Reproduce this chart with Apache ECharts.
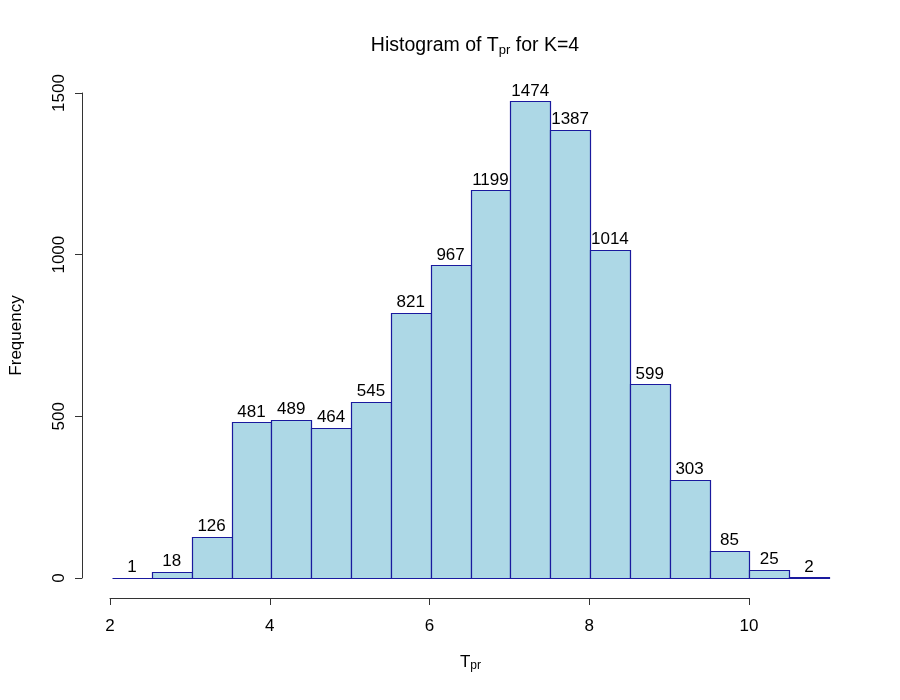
<!DOCTYPE html>
<html>
<head>
<meta charset="utf-8">
<script src="https://cdn.jsdelivr.net/npm/echarts@6/dist/echarts.min.js"></script>
<style>html,body{margin:0;padding:0;background:#fff}#c{width:900px;height:700px}</style>
</head>
<body>
<div id="c"></div>
<script>
const binStarts = [2, 2.5, 3, 3.5, 4, 4.5, 5, 5.5, 6, 6.5, 7, 7.5, 8, 8.5, 9, 9.5, 10, 10.5];
const binWidth = 0.5;
const counts = [1, 18, 126, 481, 489, 464, 545, 821, 967, 1199, 1474, 1387, 1014, 599, 303, 85, 25, 2];
const xTicks = [2, 4, 6, 8, 10];
const yTicks = [0, 500, 1000, 1500];

const FONT = 'Liberation Sans, Arial, Helvetica, sans-serif';
const chart = echarts.init(document.getElementById('c'), null, {renderer: 'canvas'});
const data = binStarts.map((s, i) => [s, s + binWidth, counts[i]]);

chart.setOption({
  backgroundColor: '#ffffff',
  animation: false,
  title: {
    text: 'Histogram of T{sub|pr} for K=4',
    left: 470, top: 30, textAlign: 'center',
    textStyle: {
      fontFamily: FONT, fontSize: 19.5, fontWeight: 'normal', color: '#000',
      rich: { sub: { fontFamily: FONT, fontSize: 13, verticalAlign: 'bottom', padding: [9, 0, 0, 0], color: '#000' } }
    }
  },
  grid: [
    {left: 110, width: 719, top: 93, height: 485},
    {left: 110, width: 639, top: 93, height: 485}
  ],
  xAxis: [
    {
      type: 'value', gridIndex: 0, min: 2, max: 11, offset: 20,
      axisLine: {show: false, onZero: false}, axisTick: {show: false}, axisLabel: {show: false}, splitLine: {show: false},
      name: 'T{sub|pr}', nameLocation: 'middle', nameGap: 54,
      nameTextStyle: {
        fontFamily: FONT, fontSize: 17, color: '#000',
        rich: { sub: { fontFamily: FONT, fontSize: 12, verticalAlign: 'bottom', padding: [8, 0, 0, 0], color: '#000' } }
      }
    },
    {
      type: 'value', gridIndex: 1, min: xTicks[0], max: xTicks[xTicks.length - 1], interval: 2, offset: 20,
      axisLine: {show: true, onZero: false, lineStyle: {color: '#333', width: 1}},
      axisTick: {show: true, inside: false, length: 7, lineStyle: {color: '#333'}},
      axisLabel: {fontFamily: FONT, fontSize: 17, color: '#000', margin: 20},
      splitLine: {show: false}
    }
  ],
  yAxis: [
    {
      type: 'value', gridIndex: 0, min: yTicks[0], max: yTicks[yTicks.length - 1], interval: 500, offset: 30,
      axisLine: {show: true, onZero: false, lineStyle: {color: '#333', width: 1}},
      axisTick: {show: true, inside: false, length: 7, lineStyle: {color: '#333'}},
      axisLabel: {fontFamily: FONT, fontSize: 17, color: '#000', rotate: 90, margin: 14, formatter: v => String(v)},
      splitLine: {show: false},
      name: 'Frequency', nameLocation: 'middle', nameGap: 57,
      nameTextStyle: {fontFamily: FONT, fontSize: 17, color: '#000'}
    },
    {type: 'value', gridIndex: 1, min: 0, max: 1500, show: false}
  ],
  series: [{
    type: 'custom',
    xAxisIndex: 0, yAxisIndex: 0,
    data: data,
    clip: false,
    renderItem: function (params, api) {
      const p0 = api.coord([api.value(0), 0]);
      const p1 = api.coord([api.value(1), api.value(2)]);
      const x = Math.round(p0[0]) + 0.5, x2 = Math.round(p1[0]) + 0.5;
      const yb = Math.round(p0[1]) + 0.5, yt = Math.round(p1[1]) + 0.5;
      return {
        type: 'group',
        children: [
          {
            type: 'rect',
            shape: {x: x, y: yt, width: x2 - x, height: yb - yt},
            style: {fill: '#ADD8E6', stroke: '#1a1a9e', lineWidth: 1.2}
          },
          {
            type: 'text',
            style: {
              text: String(api.value(2)),
              x: (p0[0] + p1[0]) / 2, y: p1[1] - 2,
              textAlign: 'center', textVerticalAlign: 'bottom',
              fontFamily: FONT, fontSize: 17, fill: '#000'
            }
          }
        ]
      };
    }
  }]
});
</script>
</body>
</html>
